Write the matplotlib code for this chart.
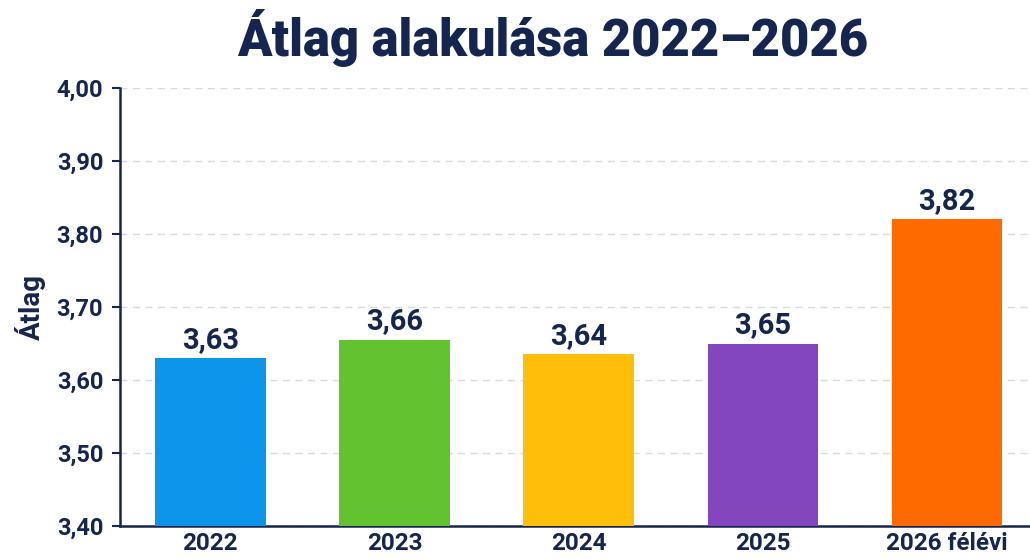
import matplotlib
matplotlib.use("Agg")
import matplotlib.pyplot as plt
from matplotlib.ticker import FuncFormatter

categories = ["2022", "2023", "2024", "2025", "2026 félévi"]
values = [3.63, 3.655, 3.635, 3.65, 3.82]
value_labels = ["3,63", "3,66", "3,64", "3,65", "3,82"]
colors = ["#0D95EC", "#63C22F", "#FFBE0A", "#8446BD", "#FF6A00"]
yticks = [3.40, 3.50, 3.60, 3.70, 3.80, 3.90, 4.00]

navy = "#14254F"
plt.rcParams['font.family'] = ['Roboto', 'DejaVu Sans']

fig = plt.figure(figsize=(10.30, 5.59), dpi=100)
ax = fig.add_axes([120/1030, 1 - 526/559, 1 - 120/1030, 438/559])

x = list(range(len(categories)))
ax.bar(x, values, width=0.6, color=colors, zorder=3)
for xi, v, lab in zip(x, values, value_labels):
    ax.text(xi, v + 0.006, lab, ha='center', va='bottom', fontsize=21,
            fontweight='bold', color=navy, zorder=4)

ax.set_ylim(3.40, 4.00)
ax.set_xlim(-0.49, 4.45)
ax.set_yticks(yticks)
ax.yaxis.set_major_formatter(FuncFormatter(lambda v, p: f"{v:.2f}".replace('.', ',')))
ax.set_xticks(x)
ax.set_xticklabels(categories)
ax.tick_params(axis='y', length=6, width=1.5, color=navy, labelsize=17, labelcolor=navy, pad=6)
ax.tick_params(axis='x', length=0, labelsize=17.5, labelcolor=navy, pad=4)
for lab in ax.get_xticklabels() + ax.get_yticklabels():
    lab.set_fontweight('bold')

ax.grid(axis='y', linestyle=(0, (5, 4)), color='#D5D9E0', linewidth=1, zorder=0)
for s in ['top', 'right']:
    ax.spines[s].set_visible(False)
for s in ['left', 'bottom']:
    ax.spines[s].set_color(navy)
    ax.spines[s].set_linewidth(1.8)

ax.set_ylabel("Átlag", fontsize=20, fontweight='bold', color=navy, labelpad=8)

fig.text(0.537, 1 - 38/559, "Átlag alakulása 2022–2026", ha='center', va='center',
         fontsize=36.5, fontweight=900, color=navy)

fig.savefig("out.png", dpi=100, facecolor='white')
